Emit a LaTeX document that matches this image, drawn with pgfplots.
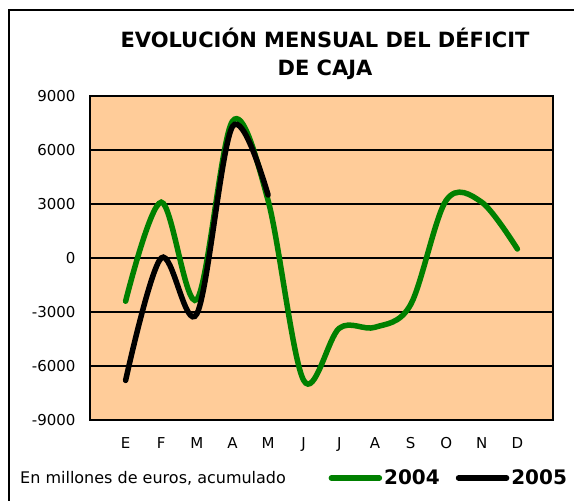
\documentclass[border=0pt]{standalone}
\usepackage{pgfplots}
\pgfplotsset{compat=1.18}
\usepackage{fontspec}
\setmainfont{DejaVu Sans}
\definecolor{bgorange}{HTML}{FFCC99}
\definecolor{lgreen}{HTML}{008000}
\begin{document}
\begin{tikzpicture}
\useasboundingbox (0pt,0pt) rectangle (574pt,501pt);
\fill[white] (0pt,0pt) rectangle (574pt,501pt);
\draw[line width=1.2pt] (9pt,491pt) rectangle (600pt,-20pt);
\node[font=\fontsize{21}{28}\selectfont\bfseries, align=center] at (325pt,447pt) {EVOLUCIÓN MENSUAL DEL DÉFICIT\\DE CAJA};
\node[font=\fontsize{16}{18}\selectfont, anchor=west, inner sep=0] at (20pt,23pt) {En millones de euros, acumulado};
\begin{axis}[
  at={(90pt,81pt)}, anchor=south west,
  width=463pt, height=324pt, scale only axis,
  xmin=-1, xmax=12, ymin=-9000, ymax=9000,
  xtick={0,...,11},
  xticklabels={E,F,M,A,M,J,J,A,S,O,N,D},
  ytick={-9000,-6000,...,9000},
  major tick length=0pt,
  /pgf/number format/assume math mode=true,
  /pgf/number format/set thousands separator={},
  ticklabel style={font=\fontsize{15}{17}\selectfont},
  yticklabel style={xshift=-11pt},
  xticklabel style={yshift=-14pt},
  ymajorgrids,
  grid style={black, line width=1.3pt},
  axis line style={line width=1.5pt, black},
  axis background/.style={fill=bgorange},
  clip=false,
  legend style={at={(axis description cs:0.515,-0.179)}, anchor=west, draw=none, fill=none,
    inner sep=0pt, font=\fontsize{20}{22}\selectfont\bfseries,
    /tikz/every even column/.append style={column sep=14pt}},
  legend columns=2,
  legend image code/.code={\draw[#1, line cap=round] (0pt,0pt) -- (48pt,0pt);},
]
\addplot[lgreen, line width=5.5pt, smooth, tension=0.55, line cap=round] coordinates {
(0,-2400) (1,3100) (2,-2300) (3,7600) (4,3200) (5,-6800) (6,-3900) (7,-3850) (8,-2600) (9,3200) (10,3100) (11,500)};
\addlegendentry{2004}
\addplot[black, line width=5.5pt, smooth, tension=0.55, line cap=round] coordinates {
(0,-6800) (1,0) (2,-3100) (3,7300) (4,3500)};
\addlegendentry{2005}
\end{axis}
\end{tikzpicture}
\end{document}
